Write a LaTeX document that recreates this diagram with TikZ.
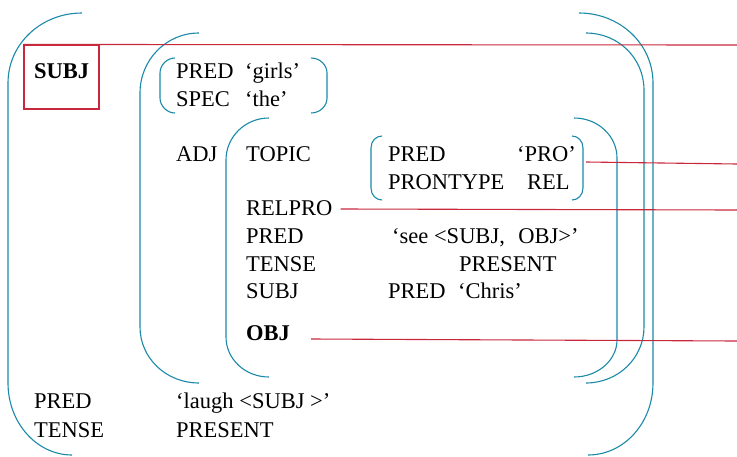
\documentclass[tikz,border=0pt]{standalone}
\usepackage{fontspec}
\setmainfont{Liberation Serif}
\definecolor{brk}{RGB}{26,138,168}
\definecolor{lnk}{RGB}{200,40,60}
\begin{document}
\begin{tikzpicture}[x=1pt,y=-1pt,
  txt/.style={anchor=base west,inner sep=0pt,font=\fontsize{22.5}{27}\selectfont},
  brkline/.style={draw=brk,line width=1.1pt},
  lnkline/.style={draw=lnk,line width=1.1pt},
  lnkbox/.style={draw=lnk,line width=1.1pt,minimum width=75pt,minimum height=64pt,inner sep=0pt}]
\useasboundingbox (0,0) rectangle (737,456);
% brackets
\path[brkline] (82,13) .. controls (41,13) and (8,44) .. (8,83) -- (8,383) .. controls (8,423) and (37,455) .. (72,455);
\path[brkline] (579,13) .. controls (620,13) and (653,44) .. (653,83) -- (653,383) .. controls (653,423) and (624,455) .. (588,455);
\path[brkline] (199,33) .. controls (166,33) and (140,60) .. (140,93) -- (140,327) .. controls (140,358) and (166,383) .. (199,383);
\path[brkline] (586,33) .. controls (618,33) and (644,58) .. (644,90) -- (644,327) .. controls (644,358) and (618,383) .. (586,383);
\path[brkline] (269,118) .. controls (245,118) and (226,137) .. (226,160) -- (226,337) .. controls (226,359) and (245,377) .. (269,377);
\path[brkline] (574,118) .. controls (598,118) and (617,136) .. (617,158) -- (617,340) .. controls (617,360) and (598,377) .. (574,377);
\path[brkline] (175,58) .. controls (167,58) and (160,65) .. (160,73) -- (160,98) .. controls (160,106) and (167,113) .. (175,113);
\path[brkline] (311,58) .. controls (320,58) and (327,65) .. (327,73) -- (327,98) .. controls (327,106) and (320,113) .. (311,113);
\path[brkline] (382,136) .. controls (376,136) and (371,141) .. (371,148) -- (371,188) .. controls (371,195) and (376,200) .. (382,200);
\path[brkline] (572,136) .. controls (578,136) and (583,141) .. (583,148) -- (583,188) .. controls (583,195) and (578,200) .. (572,200);
% SUBJ box
\node[lnkbox] (subjbox) at (61.5,77) {};
\node[txt] (subj) at (34,78) {\bfseries SUBJ};
% texts
\node[txt] (pred1) at (176,78) {PRED};
\node[txt] (girls) at (245,78) {‘girls’};
\node[txt] (spec) at (176,106) {SPEC};
\node[txt] (the) at (245,106) {‘the’};
\node[txt] (adj) at (176,161) {ADJ};
\node[txt] (topic) at (246,161) {TOPIC};
\node[txt] (pred2) at (388,161) {PRED};
\node[txt] (pro) at (517,161) {‘PRO’};
\node[txt] (prontype) at (388,189) {PRONTYPE};
\node[txt] (rel) at (527,189) {REL};
\node[txt] (relpro) at (246,215) {RELPRO};
\node[txt] (pred3) at (246,243) {PRED};
\node[txt] (see) at (392,243) {‘see <SUBJ,\hspace{0.6em}OBJ>’};
\node[txt] (tense1) at (246,271) {TENSE};
\node[txt] (present1) at (459,271) {PRESENT};
\node[txt] (subj2) at (246,298) {SUBJ};
\node[txt] (pred4) at (388,298) {PRED};
\node[txt] (chris) at (458,298) {‘Chris’};
\node[txt] (obj) at (246,340) {\bfseries OBJ};
\node[txt] (pred5) at (34,408) {PRED};
\node[txt] (laugh) at (176,408) {‘laugh <SUBJ >’};
\node[txt] (tense2) at (34,437) {TENSE};
\node[txt] (present2) at (176,437) {PRESENT};
% links
\coordinate (e1) at (737,45);
\coordinate (e2) at (737,164);
\coordinate (e3) at (737,210);
\coordinate (e4) at (737,341);
\draw[lnkline] (subjbox.north west) -- (e1);
\draw[lnkline] ([xshift=10pt,yshift=-1pt]pro.base east) -- (e2);
\draw[lnkline] ([xshift=8pt,yshift=6pt]relpro.base east) -- (e3);
\draw[lnkline] ([xshift=21pt,yshift=1pt]obj.base east) -- (e4);
\end{tikzpicture}
\end{document}
